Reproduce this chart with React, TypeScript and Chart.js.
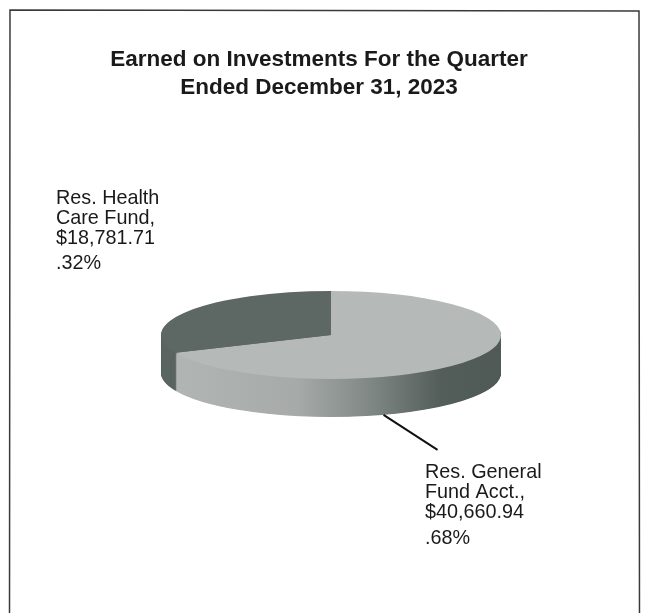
import React, { useEffect, useRef } from "react";
import { Chart, registerables } from "chart.js";

Chart.register(...registerables);

const categories = ["Res. General Fund Acct.", "Res. Health Care Fund"];
const amounts = [40660.94, 18781.71];
const titleLines = ["Earned on Investments For the Quarter", "Ended December 31, 2023"];
const generalLabel = ["Res. General", "Fund Acct.,", "$40,660.94", ".68%"];
const healthLabel = ["Res. Health", "Care Fund,", "$18,781.71", ".32%"];
const sliceColors = ["#b5b9b7", "#5d6763"];

const SQUASH = 44 / 170;
const DEPTH = 38;

const pie3d = {
  id: "pie3d",
  beforeDraw(chart: any) {
    const ctx = chart.ctx;
    ctx.save();
    ctx.fillStyle = "#ffffff";
    ctx.fillRect(0, 0, chart.width, chart.height);
    ctx.strokeStyle = "#3a3a3a";
    ctx.lineWidth = 1.5;
    ctx.beginPath();
    ctx.moveTo(9.5, chart.height + 5);
    ctx.lineTo(10, 10);
    ctx.lineTo(639, 11);
    ctx.lineTo(639.5, chart.height + 5);
    ctx.stroke();

    ctx.fillStyle = "#1a1a1a";
    ctx.font = 'bold 22.5px "Liberation Sans"';
    ctx.textAlign = "center";
    ctx.textBaseline = "alphabetic";
    titleLines.forEach((t, i) => ctx.fillText(t, 319, 66 + i * 28));
    ctx.restore();
  },
  beforeDatasetsDraw(chart: any) {
    const ctx = chart.ctx;
    const meta = chart.getDatasetMeta(0);
    const arcs = meta.data;
    const cx = arcs[0].x;
    const cy = arcs[0].y;
    const r = arcs[0].outerRadius;

    const sideGeneral = ctx.createLinearGradient(cx - r, 0, cx + r, 0);
    sideGeneral.addColorStop(0, "#b2b6b4");
    sideGeneral.addColorStop(0.4, "#a6aaa8");
    sideGeneral.addColorStop(0.62, "#7f8784");
    sideGeneral.addColorStop(0.82, "#535d5a");
    sideGeneral.addColorStop(1, "#4f5956");
    const sideFills = [sideGeneral, "#5a6460"];

    ctx.save();
    ctx.translate(0, cy);
    ctx.scale(1, SQUASH);
    ctx.translate(0, -cy);
    for (let d = DEPTH; d >= 1; d -= 0.5) {
      ctx.save();
      ctx.translate(0, d / SQUASH);
      arcs.forEach((arc: any, i: number) => {
        const proxy = Object.create(arc);
        const opts = Object.create(arc.options);
        opts.backgroundColor = sideFills[i];
        opts.borderWidth = 0;
        proxy.options = opts;
        arc.draw.call(proxy, ctx);
      });
      ctx.restore();
    }
  },
  afterDatasetsDraw(chart: any) {
    const ctx = chart.ctx;
    ctx.restore();

    const arc = chart.getDatasetMeta(0).data[0];
    const cx = arc.x;
    const cy = arc.y;
    const r = arc.outerRadius;
    const a = (162 * Math.PI) / 180;
    const x0 = cx + r * Math.sin(a);
    const y0 = cy - r * Math.cos(a) * SQUASH + DEPTH;

    ctx.save();
    ctx.strokeStyle = "#111111";
    ctx.lineWidth = 2;
    ctx.beginPath();
    ctx.moveTo(x0, y0);
    ctx.lineTo(x0 + 54, y0 + 35);
    ctx.stroke();

    ctx.fillStyle = "#1a1a1a";
    ctx.font = '19.8px "Liberation Sans"';
    ctx.textBaseline = "alphabetic";
    ctx.textAlign = "left";
    const ys1 = [204, 224, 244, 269];
    healthLabel.forEach((t, i) => ctx.fillText(t, 56, ys1[i]));
    const ys2 = [478, 498, 518, 544];
    generalLabel.forEach((t, i) => ctx.fillText(t, 425, ys2[i]));
    ctx.restore();
  },
};

export default function App() {
  const ref = useRef<HTMLCanvasElement>(null);
  useEffect(() => {
    const chart = new Chart(ref.current!, {
      type: "pie",
      data: {
        labels: categories,
        datasets: [{ data: amounts, backgroundColor: sliceColors, borderWidth: 0 }],
      },
      options: {
        animation: false,
        responsive: false,
        devicePixelRatio: 1,
        layout: { padding: { left: 161, right: 146, top: 165, bottom: 108 } },
        plugins: {
          legend: { display: false },
          tooltip: { enabled: false },
          title: { display: false },
        },
      },
      plugins: [pie3d],
    } as any);
    return () => chart.destroy();
  }, []);
  return (
    <div style={{ position: "fixed", left: 0, top: 0, width: 647, height: 613 }}>
      <canvas ref={ref} width={647} height={613} style={{ display: "block" }} />
    </div>
  );
}
